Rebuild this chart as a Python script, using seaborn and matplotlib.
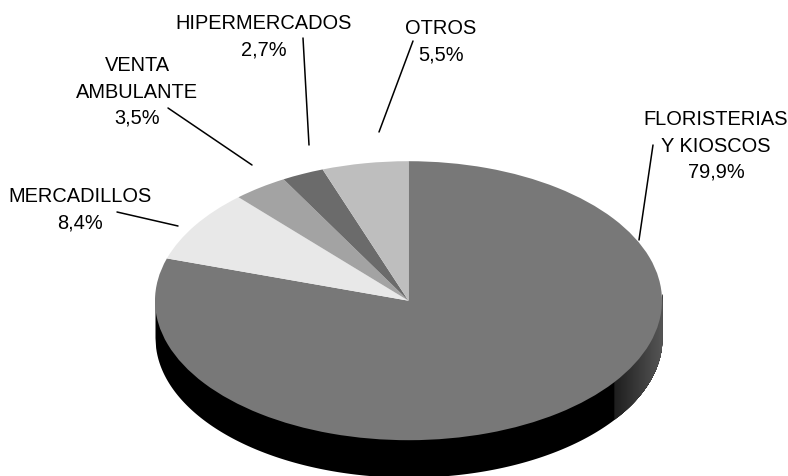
import numpy as np
import matplotlib
matplotlib.use("Agg")
import matplotlib.pyplot as plt
import seaborn as sns

# Values, clockwise from 12 o'clock
names = ["FLORISTERIAS\nY KIOSCOS", "MERCADILLOS", "VENTA\nAMBULANTE", "HIPERMERCADOS", "OTROS"]
shares = [79.9, 8.4, 3.5, 2.7, 5.5]
greys = ["#787878", "#E8E8E8", "#A3A3A3", "#6B6B6B", "#BEBEBE"]

# Label centres and leader lines, in image pixels
label_x = [716, 80, 137, 264, 441]
label_y = [146, 210, 92, 37, 42]
leader_from = [(653, 146), (117, 213), (168, 109), (303, 39), (413, 42)]
leader_to = [(639, 241), (178, 227), (252, 166), (309, 146), (379, 133)]

W, H = 788, 477
CX, CY = 408.5, 301.7   # pie centre
RX, RY = 253.5, 139.5   # ellipse radii
DEPTH = 37 / RY

sns.set_theme(style="white")
plt.rcParams["font.family"] = ["Liberation Sans", "DejaVu Sans"]

fig = plt.figure(figsize=(W / 100, H / 100), dpi=100)
ax = fig.add_axes([0, 0, 1, 1])

# top face
ax.pie(shares, colors=sns.color_palette(greys), startangle=90, counterclock=False,
       wedgeprops={"linewidth": 0, "zorder": 3})
ax.set_aspect("auto")
ax.set_xlim(-CX / RX, (W - CX) / RX)
ax.set_ylim(-(H - CY) / RY, CY / RY)

# rim of the disc, black with the lighter bands on the right
xs = np.linspace(-1, 1, 801)
rim = -np.sqrt(1 - xs ** 2)
ax.fill_between(xs, rim - DEPTH, rim + 0.05, color="black", linewidth=0, zorder=1)
edges = np.linspace(0.81, 1, 25)
shades = np.linspace(0.12, 0.33, 24)
for i in range(24):
    # each band runs to the edge so the next one overlaps it with no seam
    xb = np.linspace(edges[i], 1, 40)
    yb = -np.sqrt(np.clip(1 - xb ** 2, 0, None))
    ax.fill_between(xb, yb - DEPTH, yb + 0.05, color=str(shades[i]), linewidth=0, zorder=2)

# labels and leaders
for name, val, x, y in zip(names, shares, label_x, label_y):
    txt = f"{name}\n{val:.1f}%".replace(".", ",")
    fig.text(x / W, 1 - y / H, txt, ha="center", va="center", fontsize=14.4,
             linespacing=1.5, color="black")

for (x0, y0), (x1, y1) in zip(leader_from, leader_to):
    ax.plot([x0 / W, x1 / W], [1 - y0 / H, 1 - y1 / H], color="black", lw=1.1,
            transform=fig.transFigure, zorder=4, clip_on=False)

fig.savefig("out.png", dpi=100)
